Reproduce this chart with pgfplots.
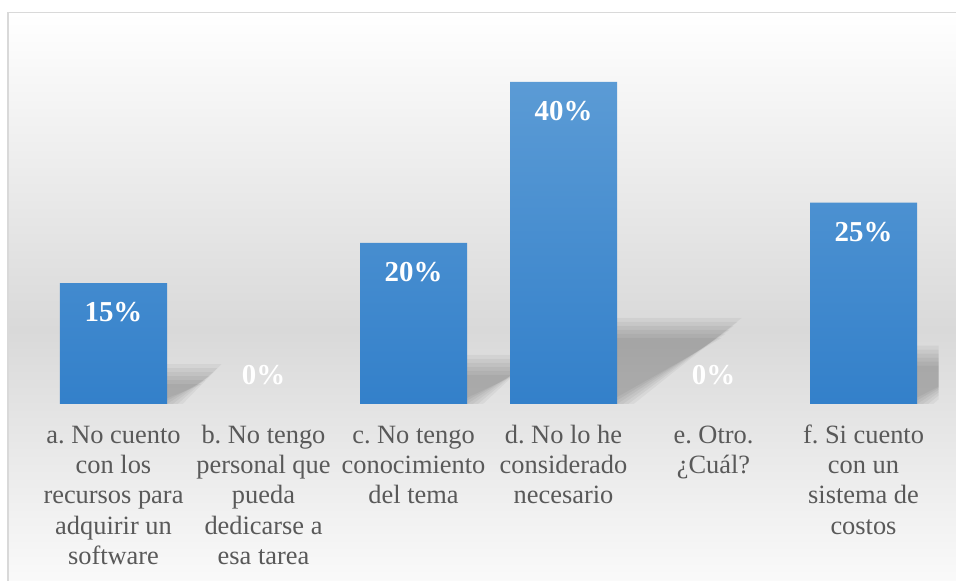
\documentclass[border=0pt]{standalone}
\usepackage{pgfplots}
\pgfplotsset{compat=1.18}
\usepackage{fontspec}
\setmainfont{Liberation Serif}
\frenchspacing
\definecolor{barTop}{HTML}{5B9BD5}
\definecolor{barBot}{HTML}{3380CA}
\definecolor{tickgray}{HTML}{595959}
\definecolor{bordergray}{HTML}{D9D9D9}
\definecolor{bgmid}{HTML}{D9D9D9}
\definecolor{bgbot}{HTML}{FBFBFB}
\begin{document}
\begin{tikzpicture}
\useasboundingbox (0,0) rectangle (956bp,581bp);
\fill[white] (0,0) rectangle (956bp,581bp);
\shade[top color=white,bottom color=bgmid] (8bp,251bp) rectangle (975bp,568.5bp);
\shade[top color=bgmid,bottom color=bgbot] (8bp,-10bp) rectangle (975bp,251.5bp);
\draw[bordergray, line width=1.5bp] (975bp,568.5bp) -- (8bp,568.5bp) -- (8bp,-10bp);
\begin{axis}[
  at={(38.5bp,177bp)}, anchor=south west,
  scale only axis, width=900bp, height=362.25bp,
  xmin=-0.5, xmax=5.5, ymin=0, ymax=45,
  axis line style={draw=none},
  major tick length=0pt,
  ytick=\empty,
  xtick={0,1,2,3,4,5},
  xticklabels={
    {\strut a. No cuento\\con los\\recursos para\\adquirir un\\software},
    {\strut b. No tengo\\personal que\\pueda\\dedicarse a\\esa tarea},
    {\strut c. No tengo\\conocimiento\\del tema},
    {\strut d. No lo he\\considerado\\necesario},
    {\strut e. Otro.\\¿Cuál?},
    {\strut f. Si cuento\\con un\\sistema de\\costos}},
  xticklabel style={font=\fontsize{26.5}{30.4}\selectfont, text=tickgray, align=center, anchor=north, inner sep=0pt, yshift=-18bp},
  /pgf/number format/assume math mode=true,
  shadow/.style={forget plot, draw=none, fill=black, fill opacity=0.045},
]
% perspective shadows (derived from bar values), layered to imitate blur
\addplot[shadow] coordinates {(0,0.3) (0.304,0.3) (0.586,2.456) (0,2.456)};
\addplot[shadow] coordinates {(0,0.15) (0.330,0.15) (0.612,2.953) (0,2.953)};
\addplot[shadow] coordinates {(0,0) (0.357,0) (0.639,3.45) (0,3.45)};
\addplot[shadow] coordinates {(0,-0.15) (0.384,-0.15) (0.666,3.947) (0,3.947)};
\addplot[shadow] coordinates {(0,-0.3) (0.410,-0.3) (0.692,4.444) (0,4.444)};
\addplot[shadow] coordinates {(0,-0.45) (0.437,-0.45) (0.719,4.94) (0,4.94)};
\addplot[shadow] coordinates {(2,0.3) (2.304,0.3) (2.680,3.606) (2,3.606)};
\addplot[shadow] coordinates {(2,0.15) (2.330,0.15) (2.706,4.103) (2,4.103)};
\addplot[shadow] coordinates {(2,0) (2.357,0) (2.733,4.6) (2,4.6)};
\addplot[shadow] coordinates {(2,-0.15) (2.384,-0.15) (2.760,5.097) (2,5.097)};
\addplot[shadow] coordinates {(2,-0.3) (2.410,-0.3) (2.786,5.594) (2,5.594)};
\addplot[shadow] coordinates {(2,-0.45) (2.437,-0.45) (2.813,6.09) (2,6.09)};
\addplot[shadow] coordinates {(3,0.3) (3.304,0.3) (4.055,8.206) (3,8.206)};
\addplot[shadow] coordinates {(3,0.15) (3.330,0.15) (4.081,8.703) (3,8.703)};
\addplot[shadow] coordinates {(3,0) (3.357,0) (4.108,9.2) (3,9.2)};
\addplot[shadow] coordinates {(3,-0.15) (3.384,-0.15) (4.135,9.697) (3,9.697)};
\addplot[shadow] coordinates {(3,-0.3) (3.410,-0.3) (4.161,10.194) (3,10.194)};
\addplot[shadow] coordinates {(3,-0.45) (3.437,-0.45) (4.188,10.69) (3,10.69)};
\addplot[shadow] coordinates {(5,0.3) (5.304,0.3) (5.774,4.756) (5,4.756)};
\addplot[shadow] coordinates {(5,0.15) (5.330,0.15) (5.800,5.253) (5,5.253)};
\addplot[shadow] coordinates {(5,0) (5.357,0) (5.827,5.75) (5,5.75)};
\addplot[shadow] coordinates {(5,-0.15) (5.384,-0.15) (5.854,6.247) (5,6.247)};
\addplot[shadow] coordinates {(5,-0.3) (5.410,-0.3) (5.880,6.744) (5,6.744)};
\addplot[shadow] coordinates {(5,-0.45) (5.437,-0.45) (5.907,7.24) (5,7.24)};
% bars
\addplot[ybar, bar width=107bp, bar shift=0pt, draw=none, top color=barTop, bottom color=barBot]
  coordinates {(0,15) (2,20) (3,40) (5,25)};
% labels
\addplot[ybar, bar width=107bp, bar shift=0pt, draw=none, fill=none,
  nodes near coords={\pgfmathprintnumber{\pgfplotspointmeta}\%},
  every node near coord/.append style={font=\fontsize{29}{30}\selectfont\bfseries, text=white, anchor=center, yshift=-29bp}]
  coordinates {(0,15) (2,20) (3,40) (5,25)};
\addplot[ybar, bar width=107bp, bar shift=0pt, draw=none, fill=none,
  nodes near coords={\pgfmathprintnumber{\pgfplotspointmeta}\%},
  every node near coord/.append style={font=\fontsize{29}{30}\selectfont\bfseries, text=white, anchor=center, yshift=29bp}]
  coordinates {(1,0) (4,0)};
\end{axis}
\end{tikzpicture}
\end{document}
